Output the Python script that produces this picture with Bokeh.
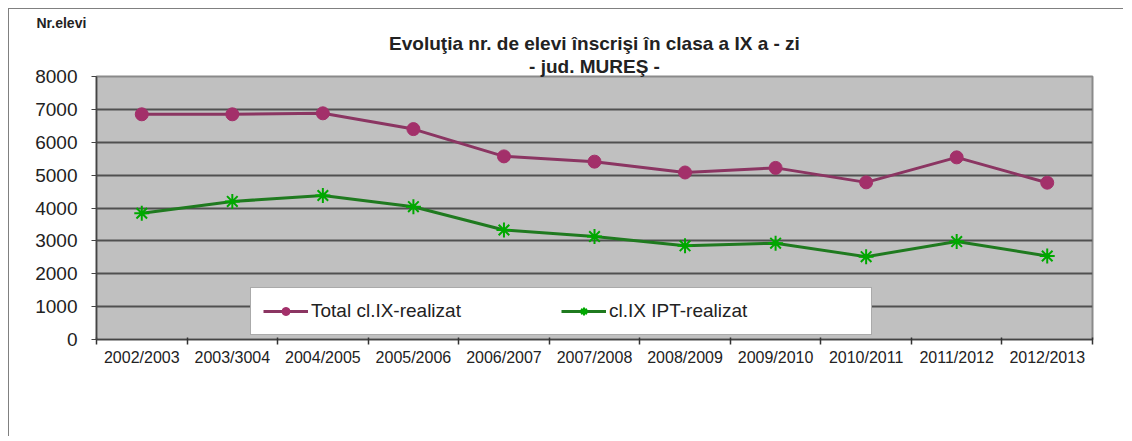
from bokeh.plotting import figure
from bokeh.models import FixedTicker, Legend, LegendItem, Range1d, Title
from bokeh.embed import file_html
from bokeh.resources import INLINE

categories = ["2002/2003", "2003/3004", "2004/2005", "2005/2006", "2006/2007",
              "2007/2008", "2008/2009", "2009/2010", "2010/2011", "2011/2012", "2012/2013"]
total_ix = [6850, 6850, 6880, 6400, 5570, 5410, 5080, 5220, 4780, 5540, 4770]
ipt_ix = [3840, 4200, 4380, 4040, 3330, 3130, 2850, 2930, 2520, 2980, 2540]
y_ticks = [0, 1000, 2000, 3000, 4000, 5000, 6000, 7000, 8000]
title_lines = ["Evoluţia nr. de elevi înscrişi în clasa a IX a - zi", "- jud. MUREŞ -"]
y_title = "Nr.elevi"
series_names = ["Total cl.IX-realizat", "cl.IX IPT-realizat"]

FONT = "Liberation Sans"
TXT = "#222222"
xs = list(range(len(categories)))

# canvas is offset by (9, 9) in the page (8px margin + 1px border)
O = 9
F_L, F_T, F_B = 96 - O, 76 - O, 339 - O   # frame edges in canvas px

p = figure(width=1115, height=428, output_backend="svg", toolbar_location=None,
           x_range=Range1d(-0.5, len(categories) - 0.5), y_range=Range1d(0, 8000),
           min_border_left=F_L, min_border_right=32, min_border_top=F_T, min_border_bottom=98,
           background_fill_color="#c0c0c0", border_fill_color="white")
p.margin = (8, 0, 0, 8)
p.styles = {"border-left": "1px solid #808080", "border-top": "1px solid #808080"}
p.outline_line_color = "#8a8a8a"
p.outline_line_width = 2

# titles: rows stack outward from the frame (line 2 closest, then line 1, plot title outermost)
for line in reversed(title_lines):
    p.add_layout(Title(text=line, align="center", standoff=0,
                       text_font=FONT, text_font_size="19px", text_font_style="bold",
                       text_color=TXT), "above")
p.title.text = y_title
p.title.align = "left"
p.title.offset = 36 - 96
p.title.standoff = 0
p.title.text_font = FONT
p.title.text_font_size = "14px"
p.title.text_font_style = "bold"
p.title.text_color = TXT

# grid
p.xgrid.grid_line_color = None
p.ygrid.ticker = FixedTicker(ticks=y_ticks)
p.ygrid.grid_line_color = "#505050"
p.ygrid.grid_line_width = 2

# y axis
p.yaxis.ticker = FixedTicker(ticks=y_ticks)
p.yaxis.major_label_text_font = FONT
p.yaxis.major_label_text_font_size = "19px"
p.yaxis.major_label_text_color = TXT
p.yaxis.axis_line_color = "#444444"
p.yaxis.axis_line_width = 1.5
p.yaxis.major_tick_line_color = "#444444"
p.yaxis.major_tick_out = 5
p.yaxis.major_tick_in = 0
p.yaxis.minor_tick_line_color = None
p.yaxis.major_label_standoff = 14

# x axis: labels at category centres, tick marks at category boundaries
bounds = [i - 0.5 for i in range(len(categories) + 1)]
p.xaxis.ticker = FixedTicker(ticks=xs, minor_ticks=bounds)
p.xaxis.major_label_overrides = {i: c for i, c in enumerate(categories)}
p.xaxis.major_label_text_font = FONT
p.xaxis.major_label_text_font_size = "16px"
p.xaxis.major_label_text_color = TXT
p.xaxis.major_tick_line_color = None
p.xaxis.major_tick_out = 5
p.xaxis.major_tick_in = 0
p.xaxis.minor_tick_line_color = "#333333"
p.xaxis.minor_tick_line_width = 1.5
p.xaxis.minor_tick_out = 5
p.xaxis.minor_tick_in = 2
p.xaxis.axis_line_color = "#444444"
p.xaxis.axis_line_width = 1.5
p.xaxis.major_label_standoff = 4

# series
PINK_L, PINK_M = "#8b3562", "#a3306a"
GREEN_L, GREEN_M = "#1f7a1f", "#00a800"
l1 = p.line(xs, total_ix, line_color=PINK_L, line_width=3)
m1 = p.scatter(xs, total_ix, marker="circle", size=13, fill_color=PINK_M, line_color=PINK_M)
l2 = p.line(xs, ipt_ix, line_color=GREEN_L, line_width=3)
m2 = p.scatter(xs, ipt_ix, marker="asterisk", size=15, line_color=GREEN_M, line_width=2)

# legend: inside the frame, in the empty band along the bottom
leg = Legend(items=[LegendItem(label=series_names[0], renderers=[l1, m1]),
                    LegendItem(label=series_names[1], renderers=[l2, m2])],
             location=(250 - 96, 4), orientation="horizontal",
             padding=12, margin=0, spacing=0,
             border_line_color="#555555", border_line_width=1.5,
             background_fill_color="white", background_fill_alpha=1,
             glyph_width=45, glyph_height=20, label_height=20, label_width=250,
             label_standoff=3,
             label_text_font=FONT, label_text_font_size="19px", label_text_color=TXT)
p.add_layout(leg, "center")

open("out.html", "w").write(file_html(p, INLINE))
